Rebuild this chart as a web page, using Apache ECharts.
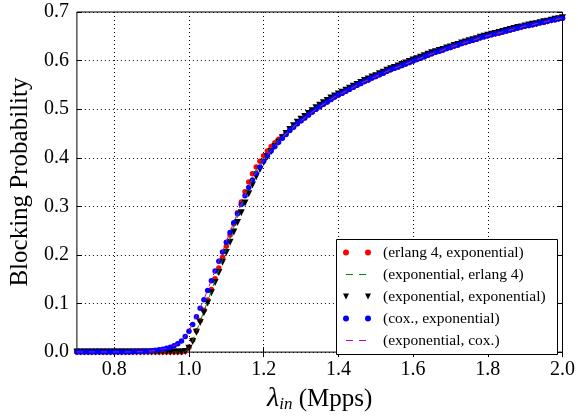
<!DOCTYPE html>
<html>
<head>
<meta charset="utf-8">
<script src="https://cdn.jsdelivr.net/npm/echarts@6/dist/echarts.min.js"></script>
<style>
  html, body { margin: 0; padding: 0; background: #fff; }
  #chart { width: 578px; height: 418px; }
</style>
</head>
<body>
<div id="chart"></div>
<script>
// Offered load λ_in (Mpps): simulation grid 0.70 … 2.00 in steps of 0.01
const lambdaIn = Array.from({ length: 131 }, (_, i) => (70 + i) / 100);

// Axis tick values
const xTicks = [0.8, 1.0, 1.2, 1.4, 1.6, 1.8, 2.0];
const yTicks = [0.0, 0.1, 0.2, 0.3, 0.4, 0.5, 0.6, 0.7];

// Blocking probability above λ = 1.29, where the four non exp/exp curves coincide
const sharedTail = [
  0.470, 0.476, 0.482, 0.488, 0.494, 0.500, 0.505, 0.510, 0.515, 0.520, // 1.29–1.38
  0.525, 0.529, 0.533, 0.537, 0.541, 0.545, 0.549, 0.553, 0.557, 0.560, // 1.39–1.48
  0.564, 0.567, 0.571, 0.574, 0.578, 0.581, 0.584, 0.587, 0.590, 0.593, // 1.49–1.58
  0.596, 0.599, 0.602, 0.605, 0.608, 0.611, 0.614, 0.617, 0.619, 0.622, // 1.59–1.68
  0.625, 0.627, 0.630, 0.632, 0.635, 0.637, 0.640, 0.642, 0.644, 0.647, // 1.69–1.78
  0.649, 0.651, 0.653, 0.655, 0.657, 0.659, 0.661, 0.663, 0.665, 0.667, // 1.79–1.88
  0.669, 0.671, 0.672, 0.674, 0.676, 0.678, 0.679, 0.681, 0.683, 0.684, // 1.89–1.98
  0.686, 0.687                                                          // 1.99–2.00
];

// (erlang 4, exponential), 0.70–1.28
const erlangExpHead = [
  0, 0, 0, 0, 0, 0, 0, 0, 0, 0, 0, 0, 0, 0, 0, 0, 0, 0, 0, 0,
  0, 0, 0, 0, 0, 0, 0, 0, 0,                                            // 0.70–0.98
  0.002, 0.010, 0.025, 0.044, 0.065, 0.086, 0.107, 0.129, 0.151, 0.173, // 0.99–1.08
  0.195, 0.218, 0.241, 0.264, 0.287, 0.309, 0.330, 0.350, 0.367, 0.381, // 1.09–1.18
  0.393, 0.404, 0.414, 0.423, 0.431, 0.438, 0.444, 0.450, 0.457, 0.464  // 1.19–1.28
];

// (exponential, erlang 4), 0.70–1.28
const expErlangHead = [
  0, 0, 0, 0, 0, 0, 0, 0, 0, 0, 0, 0, 0, 0, 0, 0, 0, 0, 0, 0,
  0, 0, 0, 0, 0, 0, 0, 0, 0,                                            // 0.70–0.98
  0.001, 0.009, 0.024, 0.043, 0.063, 0.084, 0.105, 0.126, 0.148, 0.169, // 0.99–1.08
  0.191, 0.213, 0.235, 0.257, 0.279, 0.300, 0.321, 0.341, 0.359, 0.375, // 1.09–1.18
  0.389, 0.401, 0.412, 0.421, 0.430, 0.437, 0.444, 0.450, 0.457, 0.464  // 1.19–1.28
];

// (exponential, exponential), full range 0.70–2.00
const expExp = [
  0, 0, 0, 0, 0, 0, 0, 0, 0, 0, 0, 0, 0, 0, 0, 0, 0, 0, 0, 0,
  0, 0, 0, 0, 0, 0, 0, 0, 0,                                            // 0.70–0.98
  0.001, 0.008, 0.022, 0.041, 0.061, 0.081, 0.101, 0.122, 0.143, 0.164, // 0.99–1.08
  0.185, 0.205, 0.226, 0.247, 0.267, 0.287, 0.307, 0.326, 0.344, 0.361, // 1.09–1.18
  0.376, 0.390, 0.402, 0.413, 0.423, 0.432, 0.441, 0.450, 0.458, 0.466, // 1.19–1.28
  0.473, 0.479, 0.485, 0.491, 0.497, 0.503, 0.508, 0.513, 0.518, 0.523, // 1.29–1.38
  0.527, 0.531, 0.535, 0.539, 0.543, 0.547, 0.551, 0.555, 0.559, 0.562, // 1.39–1.48
  0.566, 0.569, 0.573, 0.576, 0.580, 0.583, 0.586, 0.589, 0.592, 0.595, // 1.49–1.58
  0.598, 0.601, 0.604, 0.607, 0.610, 0.613, 0.616, 0.618, 0.621, 0.623, // 1.59–1.68
  0.626, 0.628, 0.631, 0.633, 0.636, 0.638, 0.641, 0.643, 0.645, 0.648, // 1.69–1.78
  0.650, 0.652, 0.654, 0.656, 0.658, 0.660, 0.662, 0.664, 0.666, 0.668, // 1.79–1.88
  0.669, 0.671, 0.673, 0.675, 0.676, 0.678, 0.680, 0.681, 0.683, 0.685, // 1.89–1.98
  0.686, 0.688                                                          // 1.99–2.00
];

// (cox., exponential), 0.70–1.28
const coxExpHead = [
  0, 0, 0, 0, 0, 0, 0, 0, 0, 0, 0, 0, 0, 0, 0,                          // 0.70–0.84
  0.0005, 0.001, 0.001, 0.0015, 0.002, 0.003, 0.004, 0.005, 0.006, 0.008, // 0.85–0.94
  0.010, 0.013, 0.017, 0.023, 0.032, 0.043, 0.057, 0.073, 0.090, 0.108, // 0.95–1.04
  0.127, 0.147, 0.167, 0.187, 0.206, 0.226, 0.246, 0.266, 0.285, 0.304, // 1.05–1.14
  0.322, 0.339, 0.354, 0.368, 0.381, 0.393, 0.404, 0.414, 0.423, 0.432, // 1.15–1.24
  0.440, 0.448, 0.456, 0.463                                            // 1.25–1.28
];

// (exponential, cox.), 0.70–1.28
const expCoxHead = [
  0, 0, 0, 0, 0, 0, 0, 0, 0, 0, 0, 0, 0, 0, 0,                          // 0.70–0.84
  0.0004, 0.0008, 0.001, 0.0014, 0.002, 0.0027, 0.0036, 0.0048, 0.0062, 0.008, // 0.85–0.94
  0.0105, 0.0135, 0.0175, 0.024, 0.033, 0.044, 0.058, 0.074, 0.091, 0.109, // 0.95–1.04
  0.128, 0.148, 0.168, 0.188, 0.207, 0.227, 0.247, 0.267, 0.286, 0.305, // 1.05–1.14
  0.323, 0.340, 0.355, 0.369, 0.382, 0.394, 0.405, 0.415, 0.424, 0.433, // 1.15–1.24
  0.441, 0.449, 0.456, 0.463                                            // 1.25–1.28
];

const erlangExp = erlangExpHead.concat(sharedTail);
const expErlang = expErlangHead.concat(sharedTail);
const coxExp = coxExpHead.concat(sharedTail);
const expCox = expCoxHead.concat(sharedTail);

const seriesNames = [
  '(erlang 4, exponential)',
  '(exponential, erlang 4)',
  '(exponential, exponential)',
  '(cox., exponential)',
  '(exponential, cox.)'
];

const pairs = ys => ys.map((y, i) => [lambdaIn[i], y]);

const SERIF = 'Liberation Serif, DejaVu Serif, serif';

// legend glyphs: two markers / two dashes, as in a two-point legend
const iconDots = 'path://M0,3A3,3 0 1,0 6,3A3,3 0 1,0 0,3Z M22,3A3,3 0 1,0 28,3A3,3 0 1,0 22,3Z';
const iconTris = 'path://M0,0L6,0L3,6Z M22,0L28,0L25,6Z';
const iconDash = 'path://M0,0 M28,6 M3,2.5L10,2.5L10,3.6L3,3.6Z M16,2.5L23,2.5L23,3.6L16,3.6Z';

const chart = echarts.init(document.getElementById('chart'), null, { renderer: 'canvas' });

const tickCommon = { show: true, inside: true, length: 5, lineStyle: { color: '#000', width: 1 } };

chart.setOption({
  animation: false,
  backgroundColor: '#fff',
  grid: {
    left: 66, right: 13, top: 12, bottom: 56,
    show: true, borderColor: '#000', borderWidth: 1, backgroundColor: 'transparent'
  },
  xAxis: [
    {
      type: 'value', min: 0.7, max: 2.0, splitNumber: 6,
      name: '{l|λ}{s|in}{n| (Mpps)}',
      nameLocation: 'middle', nameGap: 29,
      nameTextStyle: {
        rich: {
          l: { fontFamily: SERIF, fontStyle: 'italic', fontSize: 28, lineHeight: 28, color: '#000' },
          s: { fontFamily: SERIF, fontStyle: 'italic', fontSize: 17, lineHeight: 16, verticalAlign: 'bottom', color: '#000' },
          n: { fontFamily: SERIF, fontSize: 25, lineHeight: 28, color: '#000' }
        }
      },
      axisLine: { show: false },
      axisTick: Object.assign({ customValues: xTicks }, tickCommon),
      axisLabel: {
        customValues: xTicks, margin: 8,
        fontFamily: SERIF, fontSize: 20, color: '#000',
        formatter: v => v.toFixed(1)
      },
      splitLine: { show: true, lineStyle: { color: '#000', width: 1, type: [1, 3] } }
    },
    {
      type: 'value', position: 'top', min: 0.7, max: 2.0, splitNumber: 6,
      axisLine: { show: false },
      axisTick: Object.assign({ customValues: xTicks }, tickCommon),
      axisLabel: { show: false },
      splitLine: { show: false }
    }
  ],
  yAxis: [
    {
      type: 'value', min: 0, max: 0.7, interval: 0.1,
      name: 'Blocking Probability',
      nameLocation: 'middle', nameGap: 36,
      nameTextStyle: { fontFamily: SERIF, fontSize: 25, color: '#000' },
      axisLine: { show: false },
      axisTick: Object.assign({ customValues: yTicks }, tickCommon),
      axisLabel: {
        customValues: yTicks, margin: 8,
        fontFamily: SERIF, fontSize: 20, color: '#000',
        formatter: v => v.toFixed(1)
      },
      splitLine: { show: true, lineStyle: { color: '#000', width: 1, type: [1, 3] } }
    },
    {
      type: 'value', position: 'right', min: 0, max: 0.7, interval: 0.1,
      axisLine: { show: false },
      axisTick: Object.assign({ customValues: yTicks }, tickCommon),
      axisLabel: { show: false },
      splitLine: { show: false }
    }
  ],
  graphic: [
    {
      type: 'rect', z: 10,
      shape: { x: 336.5, y: 239.5, width: 221, height: 115 },
      style: { fill: '#fff', stroke: '#000', lineWidth: 1 }
    }
  ],
  legend: {
    z: 20,
    orient: 'vertical',
    left: 343, top: 244,
    padding: 0,
    itemWidth: 28, itemHeight: 6, itemGap: 5,
    selectedMode: false,
    itemStyle: { borderWidth: 0, opacity: 1 },
    textStyle: { fontFamily: SERIF, fontSize: 15.5, lineHeight: 17, color: '#000', padding: [0, 0, 0, 7] },
    data: [
      { name: seriesNames[0], icon: iconDots },
      { name: seriesNames[1], icon: iconDash },
      { name: seriesNames[2], icon: iconTris },
      { name: seriesNames[3], icon: iconDots },
      { name: seriesNames[4], icon: iconDash }
    ]
  },
  series: [
    {
      name: seriesNames[0], type: 'scatter', data: pairs(erlangExp),
      symbol: 'circle', symbolSize: 5.5, color: '#ff0000',
      itemStyle: { color: '#ff0000', borderWidth: 0, opacity: 1 }
    },
    {
      name: seriesNames[1], type: 'line', data: pairs(expErlang),
      symbol: 'none', showSymbol: false, color: '#008000',
      itemStyle: { color: '#008000' },
      lineStyle: { color: '#008000', width: 1, type: [6, 6] }
    },
    {
      name: seriesNames[2], type: 'scatter', data: pairs(expExp),
      symbol: 'triangle', symbolRotate: 180, symbolSize: [7, 7], color: '#000000',
      itemStyle: { color: '#000000', borderWidth: 0, opacity: 1 }
    },
    {
      name: seriesNames[3], type: 'scatter', data: pairs(coxExp),
      symbol: 'circle', symbolSize: 5.5, color: '#0000ff',
      itemStyle: { color: '#0000ff', borderWidth: 0, opacity: 1 }
    },
    {
      name: seriesNames[4], type: 'line', data: pairs(expCox),
      symbol: 'none', showSymbol: false, color: '#bf00bf',
      itemStyle: { color: '#bf00bf' },
      lineStyle: { color: '#bf00bf', width: 1, type: [6, 6] }
    }
  ]
});
</script>
</body>
</html>
